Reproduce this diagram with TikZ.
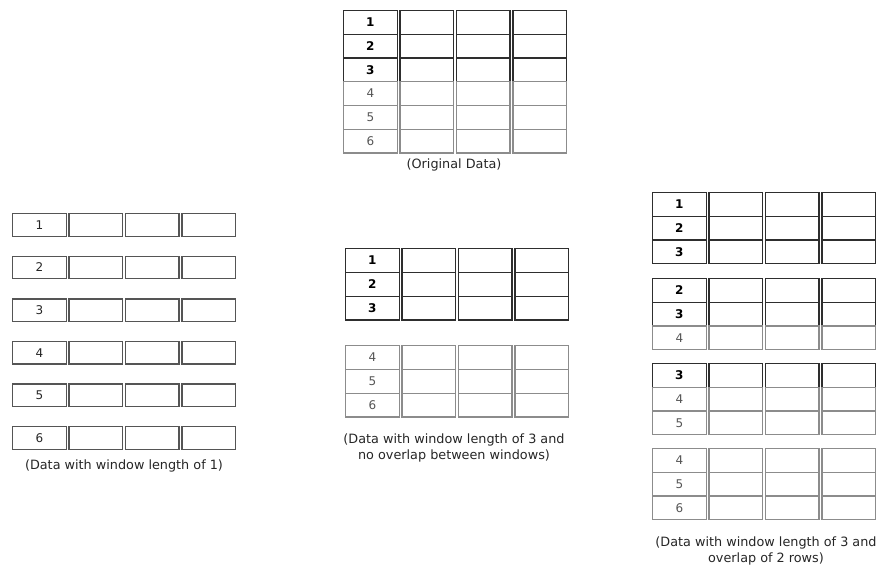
\documentclass[tikz,border=0pt]{standalone}
\usepackage{fontspec}
\setmainfont{DejaVu Sans}
\definecolor{darkline}{HTML}{2E2E2E}
\definecolor{midline}{HTML}{555555}
\definecolor{grayline}{HTML}{8C8C8C}
\definecolor{graytext}{HTML}{555555}
\tikzset{
  cell/.style={draw, line width=1.3pt, minimum width=53.5pt, inner sep=0pt,
    anchor=north west, font=\fontsize{12}{13}\selectfont},
  dk/.style={draw=darkline, text=black, font=\fontsize{12}{13}\selectfont\bfseries},
  md/.style={draw=midline, text=black!85},
  gr/.style={draw=grayline, text=graytext},
  caption/.style={align=center, inner sep=0pt, font=\fontsize{12.8}{16}\selectfont, text=black!85}
}
% #1 name prefix, #2 x, #3 y (top), #4 height, #5 label, #6 style
\newcommand\drow[6]{%
  \foreach \k in {0,1,2,3}{%
    \node[cell, #6, minimum height=#4pt] (#1c\k) at ({#2+\k*56.4},{#3}) {\ifnum\k=0 #5\fi};
  }%
}
\begin{document}
\begin{tikzpicture}[x=1pt,y=-1pt]
\useasboundingbox (0,0) rectangle (879,565);
% Original data
\drow{oa}{343}{10}{23.7}{1}{dk}
\drow{ob}{343}{33.7}{23.7}{2}{dk}
\drow{oc}{343}{57.4}{23.7}{3}{dk}
\drow{od}{343}{81.1}{23.7}{4}{gr}
\drow{oe}{343}{104.8}{23.7}{5}{gr}
\drow{of}{343}{128.5}{23.7}{6}{gr}
\node[caption] (capo) at (454,165) {(Original Data)};
% Window length 1
\drow{la}{12}{213}{22.5}{1}{md}
\drow{lb}{12}{255.6}{22.5}{2}{md}
\drow{lc}{12}{298.2}{22.5}{3}{md}
\drow{ld}{12}{340.8}{22.5}{4}{md}
\drow{le}{12}{383.4}{22.5}{5}{md}
\drow{lf}{12}{426}{22.5}{6}{md}
\node[caption] (capl) at (124,466) {(Data with window length of 1)};
% Window length 3, no overlap
\drow{ma}{345}{248}{23.8}{1}{dk}
\drow{mb}{345}{271.8}{23.8}{2}{dk}
\drow{mc}{345}{295.6}{23.8}{3}{dk}
\drow{md}{345}{345}{23.8}{4}{gr}
\drow{me}{345}{368.8}{23.8}{5}{gr}
\drow{mf}{345}{392.6}{23.8}{6}{gr}
\node[caption] (capm) at (454,448) {(Data with window length of 3 and\\no overlap between windows)};
% Window length 3, overlap 2
\drow{ra}{652}{192}{23.7}{1}{dk}
\drow{rb}{652}{215.7}{23.7}{2}{dk}
\drow{rc}{652}{239.4}{23.7}{3}{dk}
\drow{rd}{652}{278}{23.7}{2}{dk}
\drow{re}{652}{301.7}{23.7}{3}{dk}
\drow{rf}{652}{325.4}{23.7}{4}{gr}
\drow{rg}{652}{363}{23.7}{3}{dk}
\drow{rh}{652}{386.7}{23.7}{4}{gr}
\drow{ri}{652}{410.4}{23.7}{5}{gr}
\drow{rj}{652}{448}{23.7}{4}{gr}
\drow{rk}{652}{471.7}{23.7}{5}{gr}
\drow{rl}{652}{495.4}{23.7}{6}{gr}
\node[caption] (capr) at (766,550.5) {(Data with window length of 3 and\\overlap of 2 rows)};
\end{tikzpicture}
\end{document}
